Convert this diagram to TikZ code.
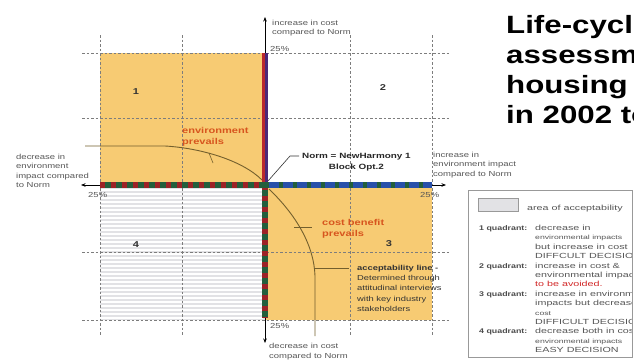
\documentclass[tikz,border=0pt]{standalone}
\usepackage{fontspec}
\setmainfont{Liberation Sans}[FakeStretch=1.3]
\newfontfamily\legendfont{Liberation Sans}[FakeStretch=1.45]
\newfontfamily\titlefont{Liberation Sans}[FakeStretch=1.25]
\usetikzlibrary{arrows.meta}

\definecolor{qorange}{RGB}{247,203,115}
\definecolor{qgrey}{RGB}{226,226,229}
\definecolor{gridc}{RGB}{125,125,125}
\definecolor{barred}{RGB}{185,40,45}
\definecolor{barpurple}{RGB}{75,40,120}
\definecolor{bargreen}{RGB}{35,95,60}
\definecolor{barblue}{RGB}{40,80,170}
\definecolor{prevail}{RGB}{215,85,30}
\definecolor{curvec}{RGB}{115,95,45}
\definecolor{lbl}{RGB}{85,85,85}
\definecolor{avoid}{RGB}{210,40,40}

\tikzset{
  griddash/.style={gridc, line width=0.6pt, dash pattern=on 2.5pt off 2pt},
  accline/.style={curvec, line width=0.9pt},
  axisline/.style={black, line width=0.6pt, -{Stealth[length=4.5pt,width=3.5pt]}},
  small/.style={font=\fontsize{7.3}{9.5}\selectfont, text=lbl, align=left, inner sep=0pt, anchor=north west},
  pct/.style={font=\fontsize{7.3}{9.5}\selectfont, text=lbl, inner sep=0pt, anchor=base west},
  quadnum/.style={font=\fontsize{8.5}{9}\selectfont\bfseries, text=black!80, inner sep=0pt},
  prevails/.style={font=\fontsize{8.5}{11}\selectfont\bfseries, text=prevail, align=left, inner sep=0pt, anchor=north west},
  legend/.style={font=\legendfont\fontsize{7.4}{9.4}\selectfont, text=lbl, align=left, inner sep=0pt, anchor=base west},
  legendblock/.style={legend, anchor=north west},
  legendkey/.style={font=\fontsize{6.8}{9.4}\selectfont\bfseries, text=black!70, inner sep=0pt, anchor=base west},
  titletext/.style={font=\titlefont\fontsize{25}{30}\selectfont\bfseries, text=black, align=left, inner sep=0pt, anchor=north west}
}
\newcommand{\lsmall}{\fontsize{6}{9.4}\selectfont}

\begin{document}
\begin{tikzpicture}[x=1pt,y=-1pt]
\fill[white] (0,0) rectangle (634,359);
\useasboundingbox (0,0) rectangle (634,359);
\begin{scope}
\clip (0,0) rectangle (634,359);

% quadrant areas
\fill[qorange] (100,53) rectangle (265,185);
\fill[qorange] (265,185) rectangle (432,320);
\fill[qgrey] (100,185) rectangle (265,320);
\foreach \y in {190,194,...,318} \draw[white, line width=1.1pt] (100,\y) -- (263,\y);

% dashed grid
\foreach \x in {100,182,350,432} \draw[griddash] (\x,35) -- (\x,336);
\foreach \y in {53,118,252,320} \draw[griddash] (82,\y) -- (450,\y);

% axes
\coordinate (O) at (265,185);
\coordinate (up) at (265,17);
\coordinate (down) at (265,343);
\coordinate (left) at (81,185);
\coordinate (right) at (446,185);
\draw[axisline] (O) -- (up);
\draw[axisline] (O) -- (down);
\draw[axisline] (O) -- (left);
\draw[axisline] (O) -- (right);

% coloured bands along the axes
\coordinate (b1) at (265,53);
\coordinate (b2) at (265,318);
\coordinate (b3) at (100,185);
\coordinate (b4) at (432,185);
\draw[barred, line width=3.2pt] ([xshift=-1.6pt]b1) -- ([xshift=-1.6pt]O);
\draw[barpurple, line width=2.8pt] ([xshift=1.4pt]b1) -- ([xshift=1.4pt]O);
\draw[bargreen, line width=6pt] (O) -- (b2);
\draw[barred!85!black, line width=6pt, dash pattern=on 5pt off 6pt] (O) -- (b2);
\draw[bargreen, line width=6pt] (b3) -- (O);
\draw[barred!85!black, line width=6pt, dash pattern=on 5pt off 6pt] (b3) -- (O);
\draw[barblue, line width=6pt] (O) -- (b4);
\draw[bargreen, line width=6pt, dash pattern=on 4pt off 10pt] (O) -- (b4);

% acceptability line
\draw[accline] (85,146) -- (165,146) .. controls (200,148) and (242,160) .. (262,180);
\draw[accline] (269,189) .. controls (296,215) and (314,245) .. (315,276) -- (315,336);
\draw[accline, line width=0.6pt] (209,153) -- (213,163);
\draw[accline, line width=0.6pt] (294,227) -- (312,227);
\draw[accline, line width=0.6pt] (315,268) -- (349,268);

% quadrant numbers
\node[quadnum] (n1) at (136,92) {1};
\node[quadnum] (n2) at (383,88) {2};
\node[quadnum] (n3) at (389,244) {3};
\node[quadnum] (n4) at (136,245) {4};

% labels on the quadrants
\node[prevails] (envp) at (182,127) {environment\\prevails};
\node[prevails] (costp) at (322,219) {cost benefit\\prevails};
\node[font=\fontsize{7.6}{11}\selectfont\bfseries, text=black!85, align=center, inner sep=0pt, anchor=north west] (norm) at (302,153.5) {Norm = NewHarmony 1\\Block Opt.2};
\draw[black!80, line width=0.6pt] (268,181) -- (290,156) -- (299,156);
\node[font=\fontsize{7.2}{10.3}\selectfont, text=black!80, align=left, inner sep=0pt, anchor=north west] (accl) at (357,264.8)
  {\textbf{acceptability line -}\\Determined through\\attitudinal interviews\\with key industry\\stakeholders};

% axis captions
\node[small] (capup) at (272,19.7) {increase in cost\\compared to Norm};
\node[small] (capdown) at (269,343.2) {decrease in cost\\compared to Norm};
\node[small] (capleft) at (16,153.7) {decrease in\\environment\\impact compared\\to Norm};
\node[small] (capright) at (433,151.7) {increase in\\environment impact\\compared to Norm};
\node[pct] (p1) at (270,51) {25\%};
\node[pct] (p2) at (270,328) {25\%};
\node[pct] (p3) at (88,197) {25\%};
\node[pct] (p4) at (420,197) {25\%};

% title
\node[titletext] (title) at (506,14.8) {Life-cycle\\assessment\\housing\\in 2002 to};

% legend
\draw[gray!80, line width=1pt, fill=white] (468,190) rectangle (632,357);
\begin{scope}
\clip (469,191) rectangle (631,356);
\node[draw=gray!80, fill=qgrey, line width=0.8pt, minimum width=40pt, minimum height=13pt, inner sep=0pt] (key) at (498,204.5) {};
\node[legend] (keytxt) at (527,210.5) {area of acceptability};
\node[legendkey] (l1) at (479,230.5) {1 quadrant:};
\node[legendblock] (t1) at (535,225) {decrease in\\{\lsmall environmental impacts}\\but increase in cost\\DIFFCULT DECISION};
\node[legendkey] (l2) at (479,268.1) {2 quadrant:};
\node[legendblock] (t2) at (535,262.6) {increase in cost \&\\environmental impacts\\\textcolor{avoid}{to be avoided.}};
\node[legendkey] (l3) at (479,296.3) {3 quadrant:};
\node[legendblock] (t3) at (535,290.8) {increase in environmental\\impacts but decrease in\\{\lsmall cost}\\DIFFICULT DECISION};
\node[legendkey] (l4) at (479,333.9) {4 quadrant:};
\node[legendblock] (t4) at (535,328.4) {decrease both in cost \&\\{\lsmall environmental impacts}\\EASY DECISION};
\end{scope}
\end{scope}
\end{tikzpicture}
\end{document}
